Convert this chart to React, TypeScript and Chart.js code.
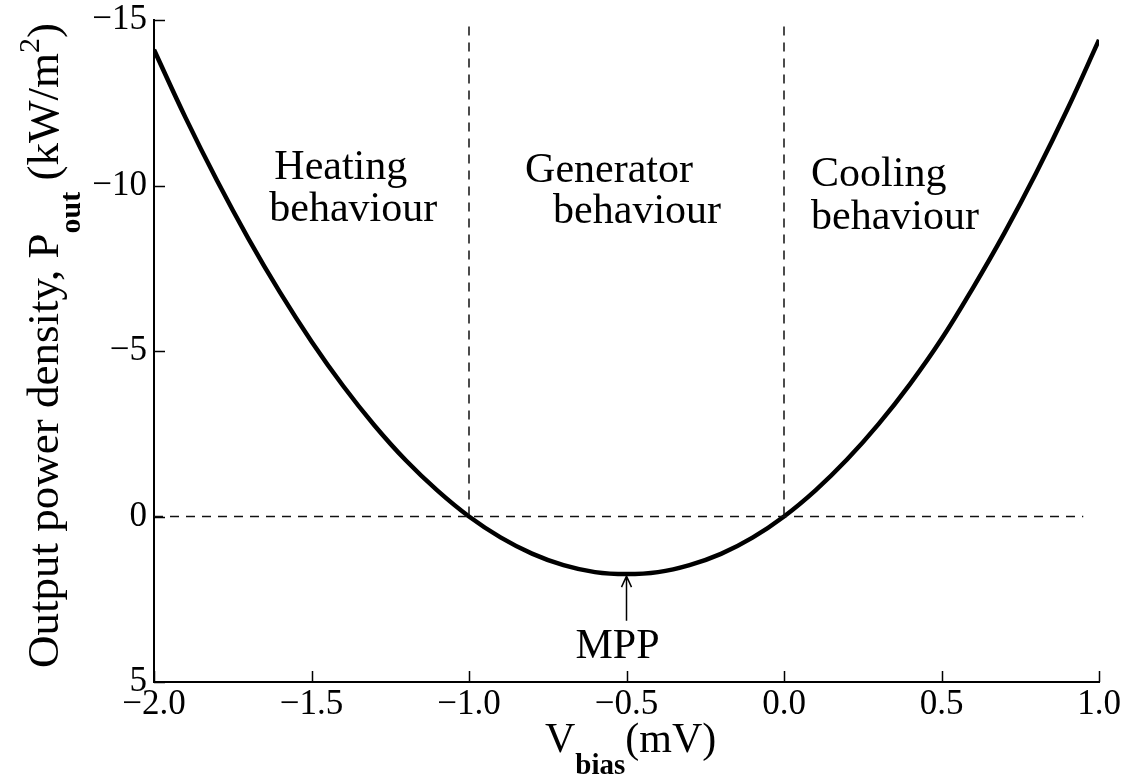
import React, { useEffect, useRef } from "react";
import { Chart, registerables } from "chart.js";

Chart.register(...registerables);

// ---- data ----
const vBias = [
  -2.0, -1.9, -1.8, -1.7, -1.6, -1.5, -1.4, -1.3, -1.2, -1.1, -1.0,
  -0.9, -0.8, -0.7, -0.6, -0.5, -0.4, -0.3, -0.2, -0.1, 0.0,
  0.1, 0.2, 0.3, 0.4, 0.5, 0.6, 0.7, 0.8, 0.9, 1.0,
];
const pOut = [
  -14.1, -12.05, -10.15, -8.39, -6.77, -5.29, -3.95, -2.75, -1.69, -0.78, 0.0,
  0.63, 1.12, 1.47, 1.68, 1.74, 1.68, 1.47, 1.13, 0.64, 0.0,
  -0.79, -1.72, -2.79, -4.0, -5.36, -6.91, -8.57, -10.37, -12.31, -14.4,
];

const xTickValues = [-2.0, -1.5, -1.0, -0.5, 0.0, 0.5, 1.0];
const xTickLabels = ["\u22122.0", "\u22121.5", "\u22121.0", "\u22120.5", "0.0", "0.5", "1.0"];
const yTickValues = [-15, -10, -5, 0, 5];
const yTickLabels = ["\u221215", "\u221210", "\u22125", "0", "5"];

const regionBounds = [-1.0, 0.0];
const dividerTop = -14.8;
const zeroLineStart = -2.0;
const zeroLineEnd = 0.95;

const mppV = -0.5;
const mppP = 1.74;
const mppArrowTail = 3.15;

const regionTexts = ["Heating", "behaviour", "Generator", "behaviour", "Cooling", "behaviour"];
const regionTextV = [-1.618, -1.634, -0.822, -0.733, 0.086, 0.086];
const regionTextP = [-10.2, -8.92, -10.12, -8.86, -9.98, -8.7];

const SERIF = "'Liberation Serif', 'DejaVu Serif', serif";

const overlayPlugin = {
  id: "overlay",
  afterDraw(chart: any) {
    const { ctx, chartArea, scales } = chart;
    const xs = scales.x;
    const ys = scales.y;
    ctx.save();
    ctx.strokeStyle = "#000";
    ctx.fillStyle = "#000";
    // inward ticks
    ctx.lineWidth = 1.5;
    ctx.beginPath();
    yTickValues.forEach((v) => {
      const py = Math.round(ys.getPixelForValue(v)) + 0.5;
      ctx.moveTo(chartArea.left, py);
      ctx.lineTo(chartArea.left + 11, py);
    });
    xTickValues.forEach((v) => {
      const px = Math.round(xs.getPixelForValue(v)) + 0.5;
      ctx.moveTo(px, chartArea.bottom);
      ctx.lineTo(px, chartArea.bottom - 11);
    });
    ctx.stroke();

    // region texts
    ctx.font = `42px ${SERIF}`;
    ctx.textAlign = "left";
    ctx.textBaseline = "alphabetic";
    regionTexts.forEach((t, i) => {
      ctx.fillText(t, xs.getPixelForValue(regionTextV[i]), ys.getPixelForValue(regionTextP[i]));
    });

    // MPP arrow + label
    const ax = xs.getPixelForValue(mppV);
    const tipY = ys.getPixelForValue(mppP) + 2;
    const tailY = ys.getPixelForValue(mppArrowTail);
    ctx.lineWidth = 1.5;
    ctx.beginPath();
    ctx.moveTo(ax, tailY);
    ctx.lineTo(ax, tipY);
    ctx.moveTo(ax - 5, tipY + 11);
    ctx.lineTo(ax, tipY);
    ctx.lineTo(ax + 5, tipY + 11);
    ctx.stroke();
    ctx.textAlign = "center";
    ctx.fillText("MPP", ax - 9, tailY + 37);

    // x axis title: V_bias (mV)
    ctx.textAlign = "left";
    const xtX = 545;
    const xtY = 752;
    ctx.font = `42px ${SERIF}`;
    ctx.fillText("V", xtX, xtY);
    const w = ctx.measureText("V").width;
    ctx.font = `bold 29px ${SERIF}`;
    ctx.fillText("bias", xtX + w, xtY + 22);
    const wb = ctx.measureText("bias").width;
    ctx.font = `42px ${SERIF}`;
    ctx.fillText("(mV)", xtX + w + wb, xtY);

    // y axis title (rotated)
    ctx.translate(58, 668);
    ctx.rotate(-Math.PI / 2);
    let cx = 0;
    ctx.font = `45px ${SERIF}`;
    const part1 = "Output power density, P";
    ctx.fillText(part1, cx, 0);
    cx += ctx.measureText(part1).width;
    ctx.font = `bold 30px ${SERIF}`;
    ctx.fillText("out", cx, 22);
    cx += ctx.measureText("out").width;
    ctx.font = `45px ${SERIF}`;
    const part2 = " (kW/m";
    ctx.fillText(part2, cx, 0);
    cx += ctx.measureText(part2).width;
    ctx.font = `30px ${SERIF}`;
    ctx.fillText("2", cx, -19);
    cx += ctx.measureText("2").width;
    ctx.font = `45px ${SERIF}`;
    ctx.fillText(")", cx, 0);
    ctx.restore();
  },
};

export default function App() {
  const canvasRef = useRef<HTMLCanvasElement | null>(null);

  useEffect(() => {
    const canvas = canvasRef.current;
    if (!canvas) return;
    const curve = vBias.map((v, i) => ({ x: v, y: pOut[i] }));
    const dashStyle = {
      borderColor: "#111",
      borderWidth: 1.5,
      borderDash: [9, 7],
      pointRadius: 0,
      tension: 0,
      fill: false,
    };
    const chart = new Chart(canvas, {
      type: "line",
      data: {
        datasets: [
          {
            label: "zero",
            data: [
              { x: zeroLineStart, y: 0 },
              { x: zeroLineEnd, y: 0 },
            ],
            ...dashStyle,
          },
          ...regionBounds.map((b) => ({
            label: "bound " + b,
            data: [
              { x: b, y: dividerTop },
              { x: b, y: 0 },
            ],
            ...dashStyle,
          })),
          {
            label: "P_out",
            data: curve,
            borderColor: "#000",
            borderWidth: 4.5,
            pointRadius: 0,
            tension: 0.4,
            fill: false,
          },
        ],
      },
      options: {
        animation: false,
        responsive: false,
        devicePixelRatio: 1,
        layout: { padding: { top: 20, right: 25, left: 0, bottom: 0 } },
        plugins: {
          legend: { display: false },
          tooltip: { enabled: false },
          title: { display: false },
        },
        scales: {
          x: {
            type: "linear",
            min: -2,
            max: 1,
            grid: { display: false, drawTicks: false, tickLength: 0 },
            border: { display: true, color: "#000", width: 2 },
            afterBuildTicks: (scale: any) => {
              scale.ticks = xTickValues.map((v) => ({ value: v }));
            },
            afterFit: (scale: any) => {
              scale.height = 96;
              scale.paddingLeft = 0;
              scale.paddingRight = 0;
            },
            ticks: {
              color: "#000",
              padding: 5,
              font: { family: SERIF, size: 35, lineHeight: 1 },
              maxRotation: 0,
              autoSkip: false,
              callback: (v: any) => {
                const i = xTickValues.findIndex((t) => Math.abs(t - v) < 1e-6);
                return i >= 0 ? xTickLabels[i] : "";
              },
            },
          },
          y: {
            type: "linear",
            reverse: true,
            min: -15,
            max: 5,
            grid: { display: false, drawTicks: false, tickLength: 0 },
            border: { display: true, color: "#000", width: 2 },
            afterBuildTicks: (scale: any) => {
              scale.ticks = yTickValues.map((v) => ({ value: v }));
            },
            afterFit: (scale: any) => {
              scale.width = 154;
              scale.paddingTop = 0;
              scale.paddingBottom = 0;
            },
            ticks: {
              color: "#000",
              padding: 7,
              font: { family: SERIF, size: 35, lineHeight: 1 },
              autoSkip: false,
              callback: (v: any) => {
                const i = yTickValues.findIndex((t) => Math.abs(t - v) < 1e-6);
                return i >= 0 ? yTickLabels[i] : "";
              },
            },
          },
        },
      },
      plugins: [overlayPlugin],
    } as any);
    return () => chart.destroy();
  }, []);

  return (
    <div style={{ position: "absolute", left: 0, top: 0, width: 1124, height: 778, background: "#fff" }}>
      <canvas ref={canvasRef} width={1124} height={778} />
    </div>
  );
}
